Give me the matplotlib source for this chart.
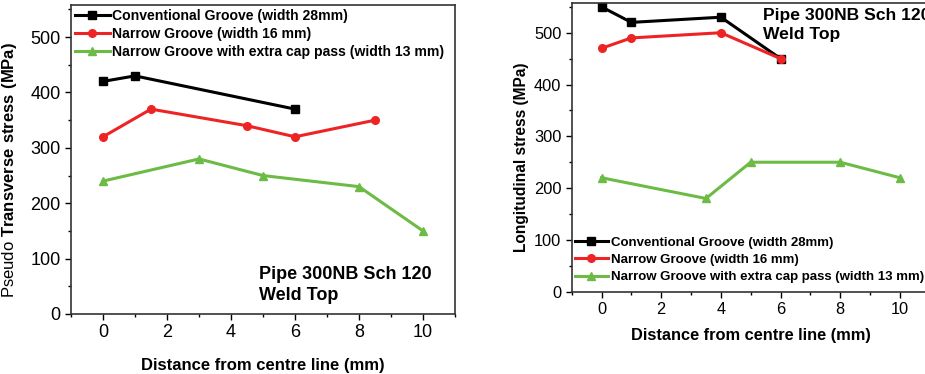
import matplotlib
matplotlib.use("Agg")
import matplotlib.pyplot as plt
from matplotlib.ticker import MultipleLocator

plt.rcParams['font.family'] = ['Liberation Sans', 'DejaVu Sans']
plt.rcParams['mathtext.fontset'] = 'custom'
plt.rcParams['mathtext.rm'] = 'Liberation Sans'
plt.rcParams['mathtext.bf'] = 'Liberation Sans:bold'

# Transverse stress (weld top)
tr_conv_x = [0, 1, 6]
tr_conv_y = [420, 430, 370]
tr_narrow_x = [0, 1.5, 4.5, 6, 8.5]
tr_narrow_y = [320, 370, 340, 320, 350]
tr_cap_x = [0, 3, 5, 8, 10]
tr_cap_y = [240, 280, 250, 230, 150]

# Longitudinal stress (weld top)
lo_conv_x = [0, 1, 4, 6]
lo_conv_y = [550, 520, 530, 450]
lo_narrow_x = [0, 1, 4, 6]
lo_narrow_y = [470, 490, 500, 450]
lo_cap_x = [0, 3.5, 5, 8, 10]
lo_cap_y = [220, 180, 250, 250, 220]

labels = ["Conventional Groove (width 28mm)",
          "Narrow Groove (width 16 mm)",
          "Narrow Groove with extra cap pass (width 13 mm)"]
xticks = [0, 2, 4, 6, 8, 10]
yticks = [0, 100, 200, 300, 400, 500]

BLACK = "#000000"
RED = "#ee2424"
GREEN = "#6cbb45"

W, H = 925, 374
fig = plt.figure(figsize=(W / 100, H / 100), dpi=100)


def px_axes(x0, y0, x1, y1):
    return fig.add_axes([x0 / W, 1 - y1 / H, (x1 - x0) / W, (y1 - y0) / H])


ax1 = px_axes(71, 5, 455, 314)
ax2 = px_axes(571.7, 2.7, 929.7, 291.7)

series1 = [(tr_conv_x, tr_conv_y, BLACK, 's'),
           (tr_narrow_x, tr_narrow_y, RED, 'o'),
           (tr_cap_x, tr_cap_y, GREEN, '^')]
series2 = [(lo_conv_x, lo_conv_y, BLACK, 's'),
           (lo_narrow_x, lo_narrow_y, RED, 'o'),
           (lo_cap_x, lo_cap_y, GREEN, '^')]

for ax, series, tls in ((ax1, series1, 13), (ax2, series2, 11.8)):
    for (x, y, c, m), lab in zip(series, labels):
        ax.plot(x, y, color=c, marker=m, markersize=5.5, linewidth=2.2, label=lab)
    ax.set_xlim(-1, 11)
    ax.set_ylim(0, 558)
    ax.set_xticks(xticks)
    ax.set_yticks(yticks)
    ax.xaxis.set_minor_locator(MultipleLocator(1))
    ax.yaxis.set_minor_locator(MultipleLocator(50))
    ax.tick_params(which='major', direction='out', length=4, width=1,
                   labelsize=tls, top=False, right=False)
    ax.tick_params(which='minor', direction='out', length=2.5, width=1,
                   top=False, right=False)
    for s in ax.spines.values():
        s.set_linewidth(1.2)
        s.set_color("#333333")

ax1.set_xlabel("Distance from centre line (mm)", fontsize=12,
               fontweight='bold', labelpad=12)
ax2.set_xlabel("Distance from centre line (mm)", fontsize=11.8,
               fontweight='bold', labelpad=8)
ax1.set_ylabel(r"Pseudo $\mathbf{Transverse\ stress\ (MPa)}$", fontsize=12)
ax2.set_ylabel("Longitudinal stress (MPa)", fontsize=11.2, fontweight='bold')
ax1.yaxis.set_label_coords(-0.135, 0.466)
ax2.yaxis.set_label_coords(-0.12, 0.466)

leg_kw = dict(frameon=False, handlelength=2.5, handletextpad=0.2,
              borderaxespad=0.15, borderpad=0.1)
ax1.legend(loc='upper left', labelspacing=0.3,
           prop={'weight': 'bold', 'size': 10.1}, **leg_kw)
ax2.legend(loc='lower left', bbox_to_anchor=(0, 0.018), labelspacing=0.37,
           prop={'weight': 'bold', 'size': 9.5}, **leg_kw)

ax1.text(0.49, 0.095, "Pipe 300NB Sch 120\nWeld Top", transform=ax1.transAxes,
         fontsize=13, fontweight='bold', va='center', ha='left', linespacing=1.3)
ax2.text(0.535, 0.923, "Pipe 300NB Sch 120\nWeld Top", transform=ax2.transAxes,
         fontsize=12.6, fontweight='bold', va='center', ha='left', linespacing=1.3)

fig.savefig("out.png", dpi=100)
